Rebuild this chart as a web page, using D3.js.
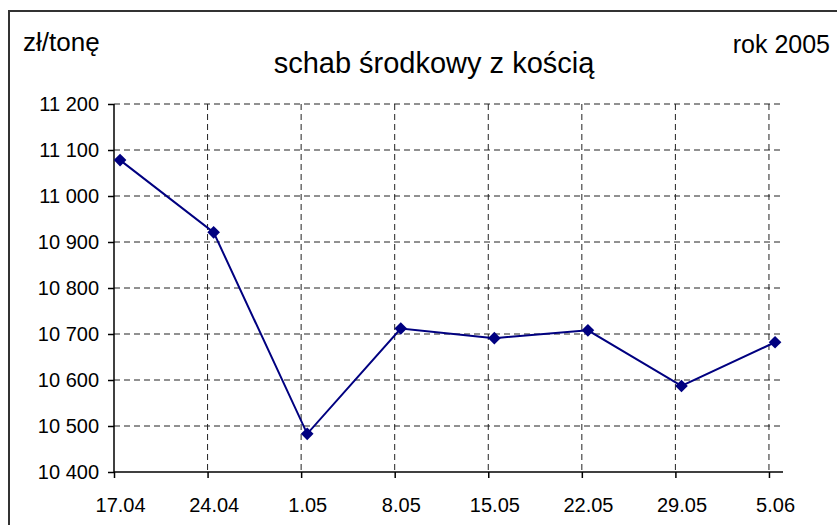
<!DOCTYPE html>
<html>
<head>
<meta charset="utf-8">
<script src="https://cdn.jsdelivr.net/npm/d3@7"></script>
<style>
  body { margin: 0; background: #fff; }
  svg { display: block; font-family: "Liberation Sans", Arial, sans-serif; }
</style>
</head>
<body>
<svg width="837" height="525"></svg>
<script>
var dates = ["17.04", "24.04", "1.05", "8.05", "15.05", "22.05", "29.05", "5.06"];
var prices = [11078, 10921, 10483, 10712, 10691, 10708, 10587, 10682];
var yTicks = [10400, 10500, 10600, 10700, 10800, 10900, 11000, 11100, 11200];

var svg = d3.select("svg"),
  width = +svg.attr("width"),
  height = +svg.attr("height");

var plotL = 114, plotR = 783, plotT = 104, plotB = 472;
var shift = 0.065; // points sit a little right of the tick

var x = d3.scaleLinear().domain([0, 7.15]).range([plotL, plotR]);
var y = d3.scaleLinear().domain([10400, 11200]).range([plotB, plotT]);

var loc = d3.formatLocale({decimal: ",", thousands: " ", grouping: [3], currency: ["", " zł"]});
var fmt = loc.format(",d");

// frame (only top and left edge visible)
svg.append("path")
  .attr("d", "M9," + height + "V11H" + width)
  .attr("fill", "none")
  .attr("stroke", "#333")
  .attr("stroke-width", 2);

// grid
var grid = svg.append("g").attr("stroke", "#222").attr("stroke-width", 1).attr("stroke-dasharray", "6,4");
grid.selectAll(".h").data(yTicks.slice(1)).enter().append("line")
  .attr("x1", plotL).attr("x2", plotR)
  .attr("y1", function(d){ return y(d); }).attr("y2", function(d){ return y(d); });
grid.selectAll(".v").data(d3.range(1, dates.length)).enter().append("line")
  .attr("x1", function(d){ return x(d); }).attr("x2", function(d){ return x(d); })
  .attr("y1", plotT).attr("y2", plotB);

// axes
var yAxis = svg.append("g")
  .attr("transform", "translate(" + plotL + ",0)")
  .call(d3.axisLeft(y).tickValues(yTicks).tickFormat(fmt).tickSize(6).tickPadding(9));
yAxis.select(".domain").attr("d", "M0," + plotT + "V" + plotB);

var xAxis = svg.append("g")
  .attr("transform", "translate(0," + plotB + ")")
  .call(d3.axisBottom(x).tickValues(d3.range(dates.length)).tickFormat(function(i){ return dates[i]; }).tickSize(6));
xAxis.select(".domain").attr("d", "M" + plotL + ",0H" + plotR);
xAxis.selectAll("text")
  .attr("x", x(shift) - x(0))
  .attr("y", 40).attr("dy", 0);

svg.selectAll(".tick text").attr("font-size", 20).attr("fill", "#000").attr("font-family", "Liberation Sans, Arial, sans-serif");
svg.selectAll(".domain, .tick line").attr("stroke", "#000").attr("stroke-width", 1.5);

// line + markers
var line = d3.line()
  .x(function(d, i){ return x(i + shift); })
  .y(function(d){ return y(d); });

svg.append("path")
  .datum(prices)
  .attr("d", line)
  .attr("fill", "none")
  .attr("stroke", "#000080")
  .attr("stroke-width", 2);

svg.selectAll(".pt").data(prices).enter().append("path")
  .attr("class", "pt")
  .attr("d", d3.symbol().type(d3.symbolSquare).size(80))
  .attr("transform", function(d, i){ return "translate(" + x(i + shift) + "," + y(d) + ") rotate(45)"; })
  .attr("fill", "#000080");

// texts
svg.append("text").attr("x", 23).attr("y", 51).attr("font-size", 26).text("zł/tonę");
svg.append("text").attr("x", 434).attr("y", 73).attr("font-size", 29).attr("text-anchor", "middle").text("schab środkowy z kością");
svg.append("text").attr("x", 830).attr("y", 53).attr("font-size", 25).attr("text-anchor", "end").text("rok 2005");
</script>
</body>
</html>
